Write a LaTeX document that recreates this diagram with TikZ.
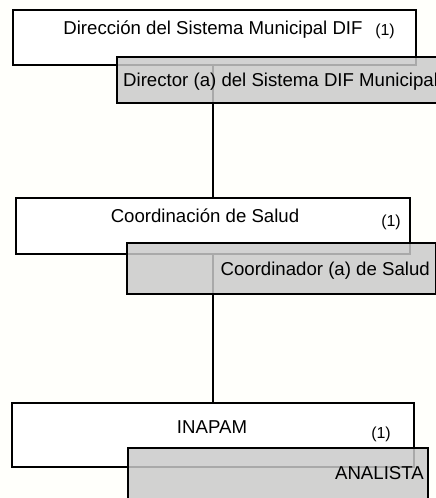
\documentclass[tikz,border=0pt]{standalone}
\usepackage{fontspec}
\setmainfont{Liberation Sans}
\definecolor{bgc}{RGB}{255,255,251}
\definecolor{grayfill}{RGB}{202,202,202}
\begin{document}
\begin{tikzpicture}[x=1bp,y=-1bp,
  whitebox/.style={draw=black,line width=1.9bp,fill=white,rectangle,inner sep=0pt,anchor=north west},
  graybox/.style={draw=black,line width=1.9bp,fill=grayfill,fill opacity=0.84,draw opacity=1,rectangle,inner sep=0pt,anchor=north west},
  conn/.style={draw=black,line width=2bp},
  lbl/.style={inner sep=0pt,anchor=base,font=\fontsize{18.7}{21}\selectfont},
  num/.style={inner sep=0pt,anchor=base,font=\fontsize{16}{18}\selectfont}]
\fill[bgc] (0,0) rectangle (436,498);
\useasboundingbox (0,0) rectangle (436,498);
\clip (0,0) rectangle (436,498);
% white boxes
\node[whitebox,minimum width=403bp,minimum height=55bp] (box1) at (12,9) {};
\node[whitebox,minimum width=394bp,minimum height=56bp] (box2) at (15,197) {};
\node[whitebox,minimum width=402bp,minimum height=64bp] (box3) at (11,402) {};
% connectors
\coordinate (k1) at (213,64);
\coordinate (k2) at (213,253);
\draw[conn] (k1) -- (k1 |- box2.north);
\draw[conn] (k2) -- (k2 |- box3.north);
% gray boxes
\node[graybox,minimum width=334bp,minimum height=46bp] (gray1) at (116,56) {};
\node[graybox,minimum width=309bp,minimum height=51bp] (gray2) at (126,242) {};
\node[graybox,minimum width=300bp,minimum height=60bp] (gray3) at (127,447) {};
% texts
\node[lbl] (t1) at (213,35) {Dirección del Sistema Municipal DIF};
\node[num] (n1) at (385,35.5) {(1)};
\node[lbl,anchor=base west] (t1b) at (123,87) {Director (a) del Sistema DIF Municipal};
\node[lbl] (t2) at (205,222) {Coordinación de Salud};
\node[num] (n2) at (391,226.5) {(1)};
\node[lbl,anchor=base east] (t2b) at (430,275) {Coordinador (a) de Salud};
\node[lbl] (t3) at (212,433) {INAPAM};
\node[num] (n3) at (381,438.5) {(1)};
\node[lbl,anchor=base east] (t3b) at (424,479) {ANALISTA};
\end{tikzpicture}
\end{document}
